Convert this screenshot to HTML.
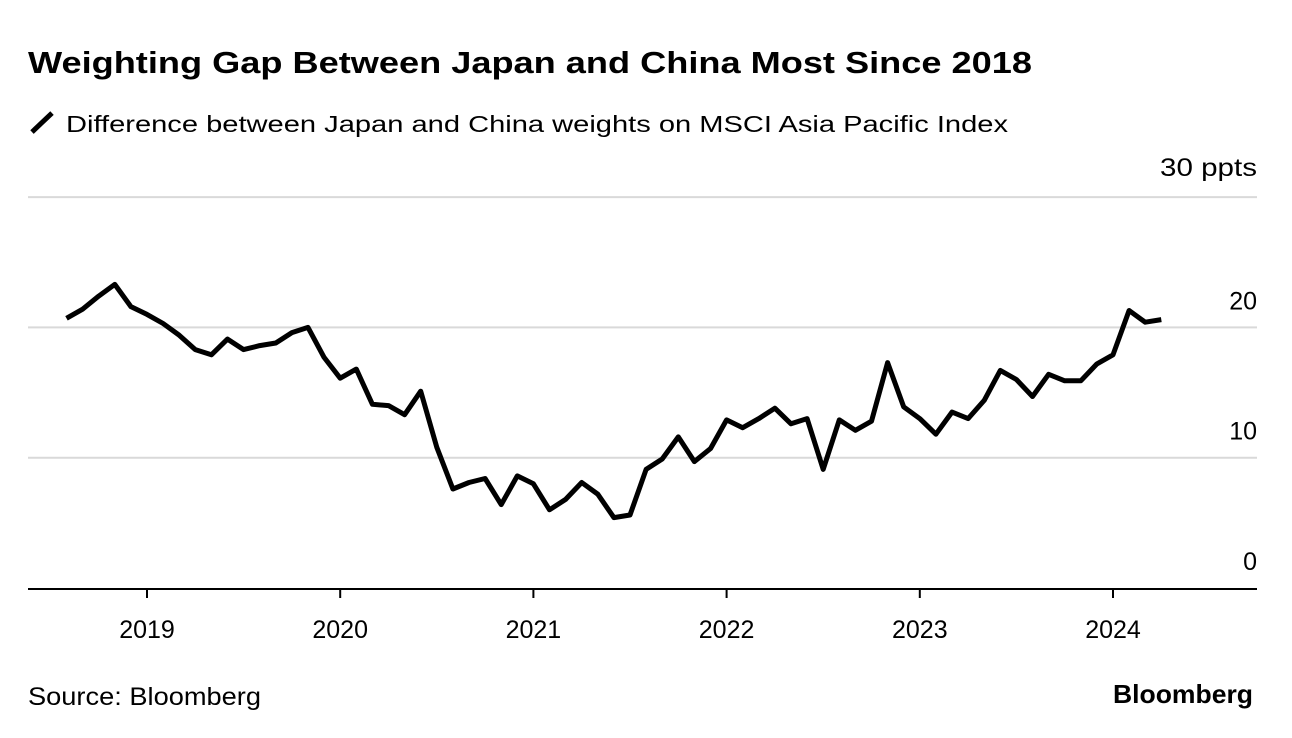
<!DOCTYPE html>
<html><head><meta charset="utf-8"><style>
html,body{margin:0;padding:0;background:#fff;}
svg{display:block;font-family:"Liberation Sans",sans-serif;}
</style></head><body>
<svg id="chart" width="1292" height="738" viewBox="0 0 1292 738">
<text x="28" y="73" font-size="31" font-weight="bold" fill="#000" textLength="1004" lengthAdjust="spacingAndGlyphs">Weighting Gap Between Japan and China Most Since 2018</text>
<line x1="32" y1="132" x2="52" y2="113" stroke="#000" stroke-width="5"/>
<text x="66" y="132" font-size="23" fill="#000" textLength="942" lengthAdjust="spacingAndGlyphs">Difference between Japan and China weights on MSCI Asia Pacific Index</text>
<g id="grid"></g>
<g id="xaxis"></g>
<path id="line" fill="none" stroke="#000" stroke-width="5" stroke-linejoin="round"/>
<text x="28" y="705" font-size="25" fill="#000" textLength="233" lengthAdjust="spacingAndGlyphs">Source: Bloomberg</text>
<text x="1113" y="703" font-size="26" font-weight="bold" fill="#000" textLength="140" lengthAdjust="spacingAndGlyphs">Bloomberg</text>
</svg>
<script>
const values = [20.7,21.4,22.4,23.3,21.6,21.0,20.3,19.4,18.3,17.9,19.1,18.3,18.6,18.8,19.6,20.0,17.7,16.1,16.8,14.1,14.0,13.3,15.1,10.8,7.6,8.1,8.4,6.4,8.6,8.0,6.0,6.8,8.1,7.2,5.4,5.6,9.1,9.9,11.6,9.7,10.7,12.9,12.3,13.0,13.8,12.6,13.0,9.1,12.9,12.1,12.8,17.3,13.9,13.0,11.8,13.5,13.0,14.4,16.7,16.0,14.7,16.4,15.9,15.9,17.2,17.9,21.3,20.4,20.6];
const startYear = 2018, startMonth = 7;
const yTicks = [0,10,20,30];
const yTickLabels = ["0","10","20","30 ppts"];
const xYears = [2019,2020,2021,2022,2023,2024];

const NS="http://www.w3.org/2000/svg";
function y(v){return 588 - v*13.03;}
function x(t){return 147 + (t-2019)*193.2;}
function mk(tag,attrs,parent){const e=document.createElementNS(NS,tag);for(const k in attrs)e.setAttribute(k,attrs[k]);parent.appendChild(e);return e;}
const grid=document.getElementById('grid'), xa=document.getElementById('xaxis');
yTicks.forEach((v,i)=>{
  if(v>0){const l=mk('line',{x1:28,x2:1257,y1:y(v),y2:y(v),stroke:'#d9d9d9','stroke-width':2},grid);
  
  }
  const attrs={x:1257,y:y(v)-(v===30?21:18),'font-size':25,'text-anchor':'end',fill:'#000'};
  if(v===30){attrs.textLength=97;attrs.lengthAdjust='spacingAndGlyphs';}
  const t=mk('text',attrs,grid);
  t.textContent=yTickLabels[i];
  
  
});
const base=mk('line',{x1:28,x2:1257,y1:589,y2:589,stroke:'#000','stroke-width':2},xa);


xYears.forEach(yr=>{
  const tk=mk('line',{x1:x(yr),x2:x(yr),y1:589,y2:598,stroke:'#000','stroke-width':2},xa);
  
  
  const t=mk('text',{x:x(yr),y:638,'font-size':25,'text-anchor':'middle',fill:'#000'},xa);
  t.textContent=yr;
  
  
});
let d='';
values.forEach((v,i)=>{
  const m=startMonth+i; const t=startYear+m/12;
  d+=(i?'L':'M')+x(t).toFixed(1)+','+y(v).toFixed(1);
});
document.getElementById('line').setAttribute('d',d);
</script>
</body></html>
